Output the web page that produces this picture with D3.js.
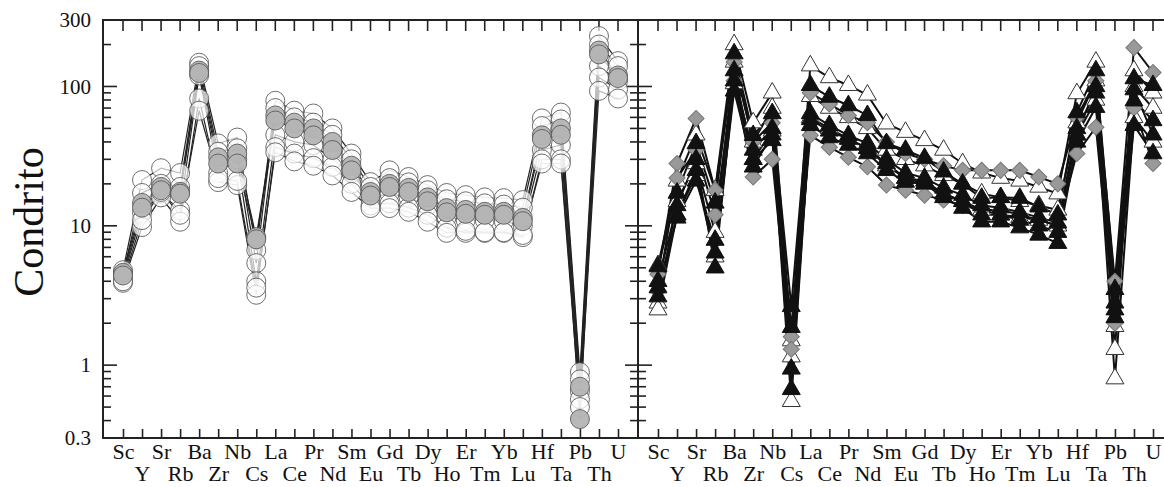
<!DOCTYPE html>
<html>
<head>
<meta charset="utf-8">
<script src="https://cdn.jsdelivr.net/npm/d3@7/dist/d3.min.js"></script>
<style>
  html, body { margin: 0; padding: 0; background: #fff; overflow: hidden; }
  text { font-family: "Liberation Serif", "DejaVu Serif", serif; fill: #111; }
</style>
</head>
<body>
<svg id="chart"></svg>
<script>
var w = 1164;
var h = 487;

// elements along the x axis
var elements = ['Sc','Y','Sr','Rb','Ba','Zr','Nb','Cs','La','Ce','Pr','Nd','Sm','Eu',
  'Gd','Tb','Dy','Ho','Er','Tm','Yb','Lu','Hf','Ta','Pb','Th','U'];

var yLabels = [0.3, 1, 10, 100, 300];

// left panel : open circles + grey circles
var leftWhite = [
  [4.8, 21.3, 25.9, 23.9, 148, 39, 43, 6.7, 79, 67, 64, 50, 33, 20.6, 25, 22.4, 19.6, 17.2, 16.6, 16, 15.8, 15.3, 59, 65, 0.89, 230, 152],
  [4.5, 17.2, 20, 19, 140, 34, 36, 5.4, 70, 60, 55, 45, 30, 19, 22, 20.5, 18, 15.5, 15, 14.5, 14.2, 13.5, 52, 58, 0.79, 200, 140],
  [4.2, 12.4, 17, 13, 120, 24, 30, 4.0, 45, 40, 38, 30, 24, 16, 17, 16, 14, 11.5, 11, 11, 10.8, 10, 35, 38, 0.65, 140, 110],
  [3.9, 9.8, 16, 10.7, 82, 20.6, 19.6, 3.2, 36.7, 33, 30.6, 26.5, 20, 14, 14.5, 13.5, 12, 9.7, 8.9, 8.9, 8.9, 8.3, 30, 30, 0.57, 116, 95],
  [4.0, 11, 17.5, 12, 67, 22, 21, 3.6, 33.7, 29, 27, 23, 17.5, 13.4, 13.4, 12.6, 10.7, 8.9, 9.2, 9, 9, 8.6, 28, 28, 0.5, 93, 82]
];
var leftGrey = [
  [4.6, 14.6, 19, 17.5, 130, 31, 33, 8.3, 62, 55, 50, 40, 27, 17.5, 20, 18.7, 16, 13.4, 13, 12.6, 12.6, 11.4, 44.6, 50, 0.70, 181, 120],
  [4.4, 13.5, 18, 17, 125, 28, 28, 8.0, 57, 50, 44.6, 35, 25, 16.5, 19, 17.5, 15, 12.5, 12.2, 12, 12, 10.8, 42, 45, 0.41, 170, 115]
];

// right panel : open triangles, grey diamonds, black triangles
var rightOpen = [
  [5.2, 21, 45, 18, 200, 55, 90, 1.5, 141, 116, 102, 87, 54, 47, 41, 35, 28, 24, 22, 21, 19, 17, 89, 150, 1.9, 130, 90],
  [2.8, 15, 28, 9, 150, 40, 70, 1.15, 85, 70, 60, 50, 35, 30, 27, 23, 20, 17, 16, 15, 14, 13, 55, 110, 1.3, 100, 70],
  [2.5, 12, 23, 6, 105, 30, 48, 0.55, 60, 50, 42, 36, 27, 22, 20, 17, 15, 13, 12, 11.5, 11, 10, 45, 80, 0.8, 60, 40]
];
var rightDiamond = [
  [4.5, 28, 59, 18, 150, 40, 55, 1.6, 90, 75, 62, 55, 40, 33, 30, 27, 25, 25, 25, 25, 22.4, 20, 60, 110, 4, 190, 126],
  [3.4, 22, 35, 12, 110, 22.4, 30, 1.3, 44.6, 36.7, 31, 26.5, 19.6, 18, 16.6, 15.3, 14, 13, 13, 12, 11, 10, 33, 51, 2.0, 70, 28]
];
var rightBlack = [
  [5.1, 17.2, 39, 14.6, 172, 44.6, 64, 2.64, 102, 84, 73, 62, 39, 35, 30.6, 24.4, 20, 15.8, 16, 15.8, 13.7, 12, 65, 130, 3.5, 114, 102],
  [3.6, 11.4, 21, 7.9, 130, 30, 41, 1.87, 64, 52.6, 44.6, 39, 30, 24, 22, 18.7, 16.6, 14, 13.5, 12.5, 11.5, 10.5, 50, 90, 2.5, 79, 57],
  [3.1, 12, 25, 6.4, 93, 26.5, 45, 0.94, 52.6, 43, 38, 33, 25, 20.6, 20, 16, 13.4, 10.7, 10.7, 9.7, 8.6, 7.5, 40, 71, 2.2, 52.6, 33],
  [4.0, 14, 30, 5.0, 110, 35, 50, 0.67, 58, 48, 42, 36, 28, 22, 21, 17, 15, 12, 12, 11, 10, 9, 45, 100, 2.8, 95, 45]
];

var svg = d3.select('#chart').attr('width', w).attr('height', h);

var y = d3.scaleLog().domain([0.3, 300]).range([438, 20]);

var xLeft = d3.scalePoint().domain(elements).range([103, 638]).padding(1.05);
var xRight = d3.scalePoint().domain(elements).range([638, 1173]).padding(1.05);

var majors = [1, 10, 100];
var minors = y.ticks().filter(function (d) {
  return majors.indexOf(d) < 0 && d > 0.3 && d < 300;
});

function drawFrame(x) {
  var r = x.range();
  var g = svg.append('g');

  // top ticks
  g.selectAll('.tt').data(elements).enter().append('line')
    .attr('x1', function (d) { return x(d) }).attr('x2', function (d) { return x(d) })
    .attr('y1', y(300)).attr('y2', y(300) + 11)
    .attr('stroke', '#222').attr('stroke-width', 1.6);

  // bottom axis with staggered labels
  var ax = d3.axisBottom(x).tickSizeInner(-9).tickSizeOuter(0);
  var gb = g.append('g').attr('transform', 'translate(0,' + y(0.3) + ')').call(ax);
  gb.select('.domain').remove();
  gb.selectAll('line').attr('stroke', '#222').attr('stroke-width', 1.6);
  gb.selectAll('text')
    .attr('font-size', 22)
    .attr('font-family', '"Liberation Serif", serif')
    .attr('fill', '#111')
    .attr('dy', 0)
    .attr('y', function (d, i) { return i % 2 ? 43 : 21 });

  // box
  g.append('rect')
    .attr('x', r[0]).attr('y', y(300))
    .attr('width', r[1] - r[0]).attr('height', y(0.3) - y(300))
    .attr('fill', 'none').attr('stroke', '#222').attr('stroke-width', 2);

  // y ticks on the left edge (inward, crossing on the shared axis)
  g.selectAll('.ymaj').data(majors).enter().append('line')
    .attr('x1', r[0] - (r[0] > 300 ? 13 : 0)).attr('x2', r[0] + 14)
    .attr('y1', function (d) { return y(d) }).attr('y2', function (d) { return y(d) })
    .attr('stroke', '#222').attr('stroke-width', 1.6);
  g.selectAll('.ymin').data(minors).enter().append('line')
    .attr('x1', r[0] - (r[0] > 300 ? 8 : 0)).attr('x2', r[0] + 8)
    .attr('y1', function (d) { return y(d) }).attr('y2', function (d) { return y(d) })
    .attr('stroke', '#222').attr('stroke-width', 1.6);
}

drawFrame(xLeft);
drawFrame(xRight);

// y labels
svg.append('g').selectAll('text').data(yLabels).enter().append('text')
  .attr('x', 91)
  .attr('y', function (d) { return y(d) })
  .attr('dy', '0.35em')
  .attr('text-anchor', 'end')
  .attr('font-size', 21)
  .text(function (d) { return d });

svg.append('text')
  .attr('transform', 'translate(43,222) rotate(-90)')
  .attr('text-anchor', 'middle')
  .attr('font-size', 42)
  .text('Condrito');

function path(x) {
  return d3.line()
    .x(function (d, i) { return x(elements[i]) })
    .y(function (d) { return y(d) });
}

// ---- left panel
var left = svg.append('g');
leftWhite.concat(leftGrey).forEach(function (row) {
  left.append('path').datum(row)
    .attr('d', path(xLeft))
    .attr('fill', 'none')
    .attr('stroke', '#222')
    .attr('stroke-width', 1.2);
});
var circ = function (rows, fill, op, stroke) {
  rows.forEach(function (row) {
    left.append('g').selectAll('circle').data(row).enter().append('circle')
      .attr('cx', function (d, i) { return xLeft(elements[i]) })
      .attr('cy', function (d) { return y(d) })
      .attr('r', 9.5)
      .attr('fill', fill)
      .attr('fill-opacity', op)
      .attr('stroke', stroke)
      .attr('stroke-opacity', 0.85)
      .attr('stroke-width', 1);
  });
};
circ(leftWhite, '#fff', 0.7, '#555');
circ(leftGrey, '#b4b4b4', 0.95, '#555');

// ---- right panel
var right = svg.append('g');
rightOpen.concat(rightDiamond).concat(rightBlack).forEach(function (row) {
  right.append('path').datum(row)
    .attr('d', path(xRight))
    .attr('fill', 'none')
    .attr('stroke', '#111')
    .attr('stroke-width', 2);
});

var tri = d3.symbol().type(d3.symbolTriangle).size(140);
var dia = d3.symbol().type(d3.symbolSquare).size(130);

function marks(rows, sym, fill, stroke, rot) {
  rows.forEach(function (row) {
    right.append('g').selectAll('path').data(row).enter().append('path')
      .attr('d', sym)
      .attr('transform', function (d, i) {
        return 'translate(' + xRight(elements[i]) + ',' + y(d) + ') rotate(' + rot + ')';
      })
      .attr('fill', fill)
      .attr('stroke', stroke)
      .attr('stroke-width', 1);
  });
}
marks(rightOpen, tri, '#fff', '#333', 0);
marks(rightDiamond, dia, '#999', '#777', 45);
marks(rightBlack, tri, '#111', '#111', 0);
</script>
</body>
</html>
